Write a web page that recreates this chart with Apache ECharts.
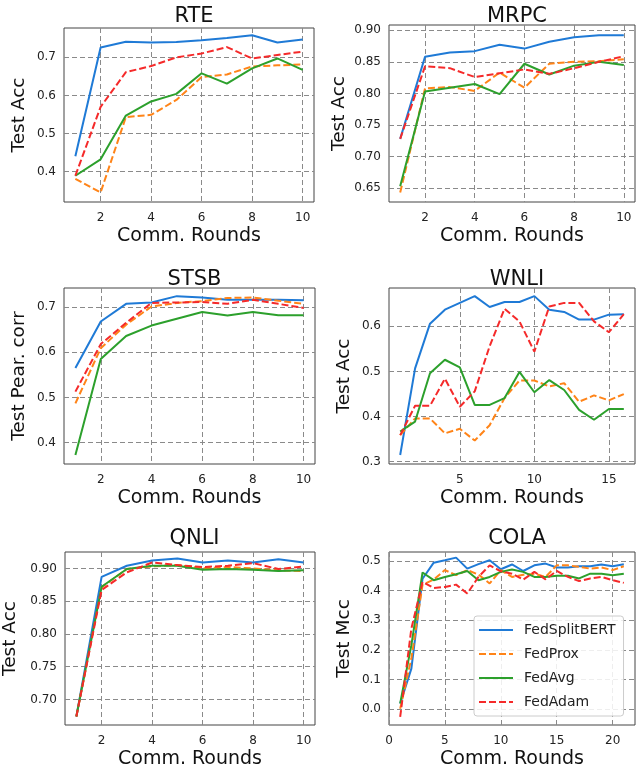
<!DOCTYPE html>
<html>
<head>
<meta charset="utf-8">
<script src="https://cdn.jsdelivr.net/npm/echarts@6/dist/echarts.min.js"></script>
<style>
html,body{margin:0;padding:0;background:#fff;}
#chart{width:640px;height:780px;}
</style>
</head>
<body>
<div id="chart"></div>
<script>
// ---- data ----
const methods = ['FedSplitBERT', 'FedProx', 'FedAvg', 'FedAdam'];
const rounds10 = [1,2,3,4,5,6,7,8,9,10];
const rounds16 = [1,2,3,4,5,6,7,8,9,10,11,12,13,14,15,16];
const rounds21 = [1,2,3,4,5,6,7,8,9,10,11,12,13,14,15,16,17,18,19,20,21];

const rteSplit = [0.440,0.726,0.741,0.739,0.740,0.745,0.751,0.758,0.739,0.747];
const rteProx  = [0.381,0.345,0.543,0.549,0.588,0.648,0.655,0.676,0.679,0.681];
const rteAvg   = [0.389,0.432,0.547,0.584,0.604,0.658,0.631,0.671,0.697,0.667];
const rteAdam  = [0.389,0.570,0.661,0.677,0.700,0.710,0.727,0.697,0.706,0.715];

const mrpcSplit = [0.728,0.858,0.865,0.867,0.877,0.871,0.882,0.889,0.892,0.892];
const mrpcProx  = [0.643,0.808,0.810,0.804,0.833,0.809,0.847,0.850,0.851,0.854];
const mrpcAvg   = [0.653,0.803,0.809,0.815,0.799,0.847,0.830,0.844,0.850,0.845];
const mrpcAdam  = [0.728,0.843,0.840,0.826,0.832,0.838,0.831,0.840,0.850,0.859];

const stsbSplit = [0.565,0.668,0.707,0.710,0.724,0.721,0.716,0.716,0.716,0.715];
const stsbProx  = [0.487,0.609,0.661,0.701,0.709,0.713,0.720,0.721,0.714,0.707];
const stsbAvg   = [0.373,0.585,0.636,0.659,0.674,0.689,0.681,0.689,0.682,0.682];
const stsbAdam  = [0.513,0.618,0.665,0.709,0.710,0.711,0.707,0.716,0.707,0.698];

const wnliSplit = [0.315,0.507,0.606,0.637,0.652,0.667,0.643,0.654,0.654,0.667,0.637,0.632,0.615,0.615,0.626,0.627];
const wnliProx  = [0.359,0.396,0.396,0.363,0.373,0.347,0.381,0.441,0.480,0.480,0.467,0.474,0.433,0.447,0.436,0.450];
const wnliAvg   = [0.367,0.389,0.496,0.526,0.509,0.426,0.426,0.441,0.499,0.454,0.481,0.459,0.415,0.393,0.417,0.417];
const wnliAdam  = [0.359,0.424,0.424,0.484,0.422,0.456,0.556,0.639,0.611,0.544,0.644,0.652,0.652,0.611,0.587,0.627];

const qnliSplit = [0.674,0.887,0.904,0.912,0.915,0.909,0.912,0.909,0.914,0.909];
const qnliProx  = [0.674,0.871,0.899,0.903,0.905,0.900,0.902,0.900,0.897,0.896];
const qnliAvg   = [0.674,0.872,0.899,0.904,0.904,0.898,0.899,0.898,0.896,0.897];
const qnliAdam  = [0.674,0.867,0.894,0.909,0.905,0.902,0.904,0.908,0.899,0.903];

const colaSplit = [0.019,0.137,0.440,0.494,0.502,0.511,0.474,0.489,0.502,0.472,0.488,0.466,0.485,0.491,0.478,0.478,0.482,0.482,0.488,0.482,0.489];
const colaProx  = [0.002,0.171,0.420,0.437,0.469,0.452,0.469,0.454,0.424,0.469,0.446,0.453,0.457,0.446,0.485,0.485,0.480,0.474,0.478,0.469,0.482];
const colaAvg   = [0.020,0.216,0.461,0.435,0.446,0.455,0.466,0.435,0.446,0.463,0.471,0.463,0.446,0.446,0.450,0.450,0.441,0.457,0.457,0.452,0.457];
const colaAdam  = [-0.026,0.272,0.429,0.409,0.412,0.420,0.390,0.446,0.485,0.465,0.457,0.437,0.463,0.438,0.466,0.446,0.432,0.441,0.446,0.435,0.426];

const titles = ['RTE','MRPC','STSB','WNLI','QNLI','COLA'];
const yNames = ['Test Acc','Test Acc','Test Pear. corr','Test Acc','Test Acc','Test Mcc'];
const xTicks10 = [2,4,6,8,10];
const xTicksWnli = [5,10,15];
const xTicksCola = [0,5,10,15,20];
const yTicksRte  = [0.4,0.5,0.6,0.7];
const yTicksMrpc = [0.65,0.70,0.75,0.80,0.85,0.90];
const yTicksStsb = [0.4,0.5,0.6,0.7];
const yTicksWnli = [0.3,0.4,0.5,0.6];
const yTicksQnli = [0.70,0.75,0.80,0.85,0.90];
const yTicksCola = [0.0,0.1,0.2,0.3,0.4,0.5];

// ---- layout / style ----
const panels = [
  {x: rounds10, s:[rteSplit,rteProx,rteAvg,rteAdam],   xt:xTicks10,   yt:yTicksRte,  xr:[0.55,10.45], yr:[0.320,0.777], dec:1, grid:{left:64, top:28, width:250, height:174}, nameGap:35, titleTop:1},
  {x: rounds10, s:[mrpcSplit,mrpcProx,mrpcAvg,mrpcAdam],xt:xTicks10,  yt:yTicksMrpc, xr:[0.55,10.45], yr:[0.628,0.9084], dec:2, grid:{left:389, top:25, width:246, height:177}, nameGap:40, titleTop:1},
  {x: rounds10, s:[stsbSplit,stsbProx,stsbAvg,stsbAdam],xt:xTicks10,  yt:yTicksStsb, xr:[0.55,10.45], yr:[0.353,0.742], dec:1, grid:{left:64, top:288, width:251, height:176}, nameGap:35, titleTop:264},
  {x: rounds16, s:[wnliSplit,wnliProx,wnliAvg,wnliAdam],xt:xTicksWnli,yt:yTicksWnli, xr:[0.25,16.75], yr:[0.295,0.685], dec:1, grid:{left:389, top:288, width:246, height:176}, nameGap:35, titleTop:264},
  {x: rounds10, s:[qnliSplit,qnliProx,qnliAvg,qnliAdam],xt:xTicks10,  yt:yTicksQnli, xr:[0.55,10.45], yr:[0.661,0.925], dec:2, grid:{left:64, top:552, width:251, height:173}, nameGap:45, titleTop:523},
  {x: rounds21, s:[colaSplit,colaProx,colaAvg,colaAdam],xt:xTicksCola,yt:yTicksCola, xr:[0,22],       yr:[-0.053,0.530], dec:1, grid:{left:389, top:552, width:246, height:173}, nameGap:35, titleTop:523}
];
const colors = ['#1f7ad6', '#ff8418', '#2ca02c', '#f52a2a'];
const dashed = [false, true, false, true];
const fontFam = 'DejaVu Sans';

const grids = [], xAxes = [], yAxes = [], series = [], titleOpts = [];
panels.forEach((p, i) => {
  grids.push(Object.assign({show:true, borderColor:'#444', borderWidth:1, backgroundColor:'transparent', containLabel:false}, p.grid));
  titleOpts.push({
    text: titles[i], left: p.grid.left + p.grid.width/2, top: p.titleTop, textAlign:'center',
    textStyle:{fontFamily:fontFam, fontSize:21, fontWeight:'normal', color:'#111'}
  });
  const split = {show:true, lineStyle:{color:'#8a8a8a', width:1, type:[5,3]}};
  xAxes.push({
    gridIndex:i, type:'value', min:p.xr[0], max:p.xr[1],
    name:'Comm. Rounds', nameLocation:'middle', nameGap:25,
    nameTextStyle:{fontFamily:fontFam, fontSize:19, color:'#111'},
    axisLine:{show:false}, axisTick:{show:false, customValues:p.xt},
    axisLabel:{customValues:p.xt, fontFamily:fontFam, fontSize:12, color:'#222', margin:10},
    splitLine:split
  });
  yAxes.push({
    gridIndex:i, type:'value', min:p.yr[0], max:p.yr[1],
    name:yNames[i], nameLocation:'middle', nameGap:p.nameGap,
    nameTextStyle:{fontFamily:fontFam, fontSize:18.5, color:'#111'},
    axisLine:{show:false}, axisTick:{show:false, customValues:p.yt},
    axisLabel:{customValues:p.yt, fontFamily:fontFam, fontSize:12, color:'#222', margin:8,
      formatter: v => Number(v).toFixed(p.dec)},
    splitLine:split
  });
  methods.forEach((m, k) => {
    series.push({
      name:m, type:'line', xAxisIndex:i, yAxisIndex:i,
      data: p.x.map((r, j) => [r, p.s[k][j]]),
      showSymbol:false, symbol:'none', animation:false,
      lineStyle:{color:colors[k], width:2, type: dashed[k] ? [7,3] : 'solid'},
      itemStyle:{color:colors[k]}
    });
  });
});

const chart = echarts.init(document.getElementById('chart'), null, {renderer:'canvas'});
chart.setOption({
  backgroundColor:'#fff',
  animation:false,
  title: titleOpts,
  grid: grids,
  xAxis: xAxes,
  yAxis: yAxes,
  legend:{
    data: methods, orient:'vertical', left:474, top:616, width:153, height:101,
    padding:[7,8,7,4], itemGap:10, itemWidth:34, itemHeight:14,
    itemStyle:{opacity:0},
    lineStyle:{width:2},
    backgroundColor:'rgba(255,255,255,0.85)', borderColor:'#cccccc', borderWidth:1, borderRadius:3,
    textStyle:{fontFamily:fontFam, fontSize:14, color:'#222', padding:[0,0,0,6]}
  },
  series: series
});
</script>
</body>
</html>
